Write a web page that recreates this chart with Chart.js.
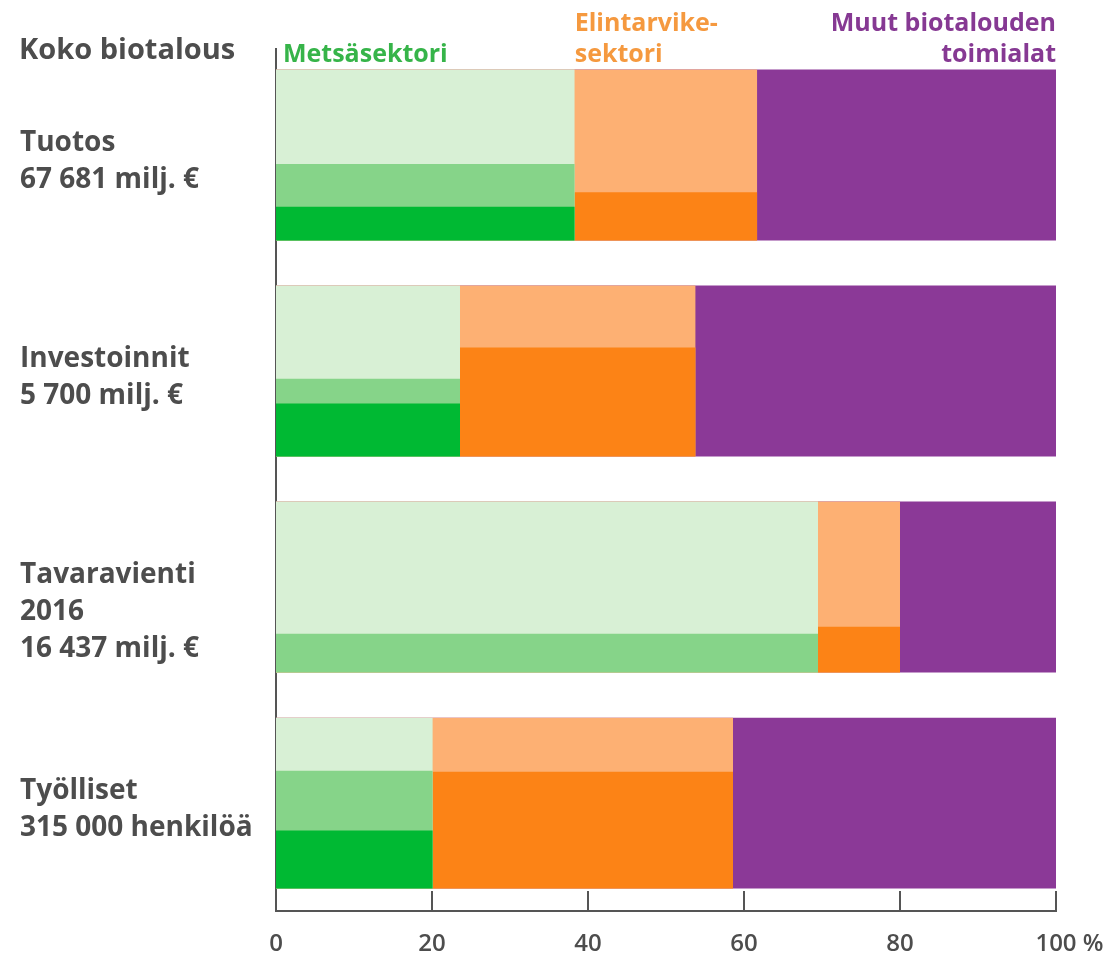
<!DOCTYPE html>
<html lang="fi">
<head>
<meta charset="utf-8">
<title>Koko biotalous</title>
<script src="https://cdn.jsdelivr.net/npm/chart.js@4.4.1/dist/chart.umd.min.js"></script>
<style>
    html, body { margin: 0; padding: 0; background: #fff; }
    #kaavio-laatikko { width: 1111px; height: 956px; position: relative; }
</style>
</head>
<body>
<div id="kaavio-laatikko"><canvas id="kaavio"></canvas></div>
<script>
// --- DATA (luettu kuvasta) ---
const kategoriat = [
    ['Tuotos', '67 681 milj. €'],
    ['Investoinnit', '5 700 milj. €'],
    ['Tavaravienti', '2016', '16 437 milj. €'],
    ['Työlliset', '315 000 henkilöä']
];

// Sektorien osuudet koko biotaloudesta (%)
const metsasektori = [38.3, 23.6, 69.5, 20.1];
const elintarvikesektori = [23.4, 30.2, 10.5, 38.5];
const muutToimialat = [38.3, 46.2, 20.0, 41.4];

// Metsäsektorin sisäinen jako (% sektorista), ylhäältä alas
const metsaVaalea = [55.3, 54.6, 77.3, 31.1];
const metsaKeski = [25.0, 14.4, 22.7, 34.9];
const metsaTumma = [19.7, 31.0, 0, 34.0];

// Elintarvikesektorin sisäinen jako (% sektorista), ylhäältä alas
const elintarvikeVaalea = [71.8, 36.3, 73.2, 31.7];
const elintarvikeTumma = [28.2, 63.7, 26.8, 68.3];

const xTikit = [0, 20, 40, 60, 80, 100];

// --- ULKOASU ---
const varit = {
    metsaVaalea: '#d8f0d5',
    metsaKeski: '#86d489',
    metsaTumma: '#00b933',
    elintarvikeVaalea: '#fdb073',
    elintarvikeTumma: '#fc8316',
    muut: '#8b3997',
    tekstiVihrea: '#36b449',
    tekstiOranssi: '#f5993f',
    tekstiVioletti: '#863993',
    teksti: '#4d4d4d',
    akseli: '#555555'
};
const FONTTI = "'Open Sans', sans-serif";

// rivin sisällä: palkin yläreuna ja korkeus (y-akselin yksiköissä, 1 = yksi rivi)
const PALKIN_YLA = 0.095;
const PALKIN_KORKEUS = 0.791;
const Y_MAX = 3.99;

// Suorakulmio viivana, joka täytetään akselin arvoon asti
function suorakulmio(x0, x1, yla, ala, vari) {
    return {
        data: [{ x: x0, y: yla }, { x: x1, y: yla }],
        fill: { value: ala },
        backgroundColor: vari,
        borderColor: 'rgba(0,0,0,0)',
        borderWidth: 0,
        pointRadius: 0,
        pointHoverRadius: 0,
        tension: 0
    };
}

// Piirtojärjestys takaa eteen: muut -> elintarvike -> metsä
const kerrokset = [];
kategoriat.forEach((_, i) => {
    const yla = i + PALKIN_YLA;
    const ala = yla + PALKIN_KORKEUS;
    const h = PALKIN_KORKEUS;
    const raja = metsasektori[i] + elintarvikesektori[i];

    kerrokset.push(suorakulmio(0, raja + muutToimialat[i], yla, ala, varit.muut));
    kerrokset.push(suorakulmio(0, raja, yla, ala, varit.elintarvikeVaalea));
    kerrokset.push(suorakulmio(0, raja, yla + h * elintarvikeVaalea[i] / 100, ala, varit.elintarvikeTumma));
    kerrokset.push(suorakulmio(0, metsasektori[i], yla, ala, varit.metsaVaalea));
    kerrokset.push(suorakulmio(0, metsasektori[i], yla + h * metsaVaalea[i] / 100, ala, varit.metsaKeski));
    kerrokset.push(suorakulmio(0, metsasektori[i], yla + h * (metsaVaalea[i] + metsaKeski[i]) / 100, ala, varit.metsaTumma));
});
// Chart.js piirtää ensimmäisen datasetin päällimmäiseksi
const datasetit = kerrokset.reverse();

const X_TIKKI_PAD = 39;

// Otsikot ja sektorien nimet yläreunaan
const otsikot = {
    id: 'otsikot',
    afterDraw(chart) {
        const { ctx, scales: { x } } = chart;
        ctx.save();
        ctx.textBaseline = 'alphabetic';
        ctx.textAlign = 'left';

        ctx.font = `bold 29px ${FONTTI}`;
        ctx.fillStyle = varit.teksti;
        ctx.fillText('Koko biotalous', 19, 59);

        ctx.font = `bold 25px ${FONTTI}`;
        ctx.fillStyle = varit.tekstiVihrea;
        ctx.fillText('Metsäsektori', x.getPixelForValue(0) + 7, 62);

        const xE = x.getPixelForValue(metsasektori[0]);
        ctx.fillStyle = varit.tekstiOranssi;
        ctx.fillText('Elintarvike-', xE, 31);
        ctx.fillText('sektori', xE, 62);

        ctx.textAlign = 'right';
        ctx.fillStyle = varit.tekstiVioletti;
        ctx.fillText('Muut biotalouden', x.getPixelForValue(100), 31);
        ctx.fillText('toimialat', x.getPixelForValue(100), 62);

        // %-merkki viimeisen tikin perään
        ctx.font = `600 24px ${FONTTI}`;
        ctx.textAlign = 'left';
        ctx.textBaseline = 'middle';
        ctx.fillStyle = varit.teksti;
        const x100 = x.getPixelForValue(100);
        const leveys = ctx.measureText('100').width / 2 + ctx.measureText(' ').width;
        ctx.fillText('%', x100 + leveys, x.top - 20 + X_TIKKI_PAD + 24 * 1.2 / 2);
        ctx.restore();
    }
};

document.addEventListener('DOMContentLoaded', function () {
    const ctx = document.getElementById('kaavio').getContext('2d');
    new Chart(ctx, {
        type: 'line',
        data: { datasets: datasetit },
        options: {
            responsive: true,
            maintainAspectRatio: false,
            animation: false,
            events: [],
            layout: { padding: { top: 49, left: 20, right: 55, bottom: 0 } },
            plugins: {
                legend: { display: false },
                tooltip: { enabled: false }
            },
            scales: {
                x: {
                    type: 'linear',
                    min: 0,
                    max: 100,
                    afterBuildTicks: (scale) => {
                        scale.ticks = xTikit.map(v => ({ value: v }));
                    },
                    afterFit: (scale) => {
                        // tikkien padding ei saa kaventaa piirtoaluetta sivuilta
                        scale.height = 45;
                        scale.paddingLeft = 0;
                        scale.paddingRight = 0;
                    },
                    grid: {
                        drawOnChartArea: false,
                        drawTicks: true,
                        tickLength: -20,
                        color: varit.akseli,
                        lineWidth: 2
                    },
                    border: { display: true, color: varit.akseli, width: 2 },
                    ticks: {
                        padding: X_TIKKI_PAD,
                        autoSkip: false,
                        maxRotation: 0,
                        color: varit.teksti,
                        font: { family: FONTTI, size: 24, weight: '600', lineHeight: 1.2 },
                        callback: (value) => String(value)
                    }
                },
                y: {
                    type: 'linear',
                    reverse: true,
                    min: 0,
                    max: Y_MAX,
                    z: 1,
                    afterBuildTicks: (scale) => {
                        // tekstilohkon yläreuna noin 0.25 riviä palkin yläreunan alapuolella
                        scale.ticks = kategoriat.map((rivit, i) => ({
                            value: i + PALKIN_YLA + 0.255 + rivit.length * 0.085
                        }));
                    },
                    afterFit: (scale) => {
                        scale.width = 256;
                        scale.paddingTop = 0;
                        scale.paddingBottom = 0;
                    },
                    grid: { display: false, drawTicks: false },
                    border: { display: true, color: varit.akseli, width: 2 },
                    ticks: {
                        autoSkip: false,
                        crossAlign: 'far',
                        padding: 0,
                        color: varit.teksti,
                        font: { family: FONTTI, size: 28, weight: 'bold', lineHeight: 1.33 },
                        callback: (value, index) => kategoriat[index]
                    }
                }
            }
        },
        plugins: [otsikot]
    });
});
</script>
</body>
</html>
